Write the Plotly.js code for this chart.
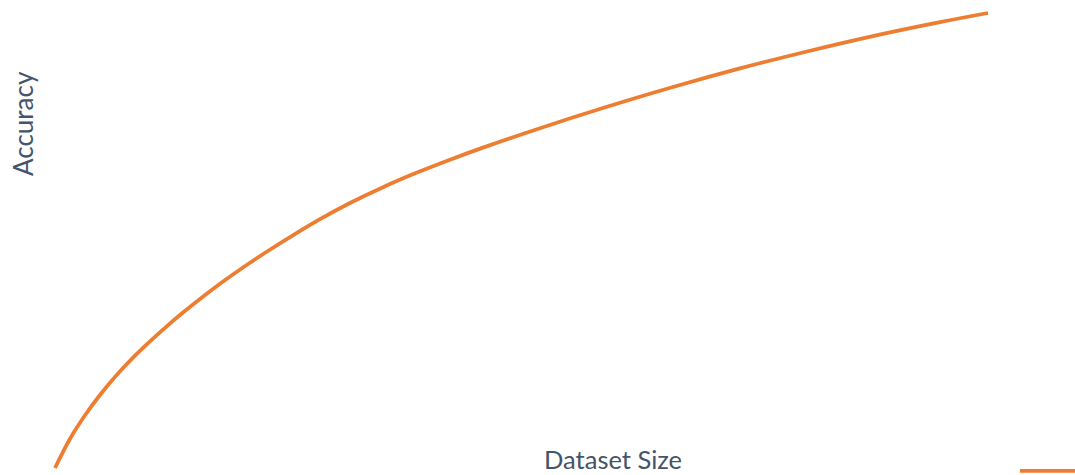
<!DOCTYPE html>
<html>
<head>
<meta charset="utf-8">
<script src="https://cdn.plot.ly/plotly-3.0.1.min.js"></script>
<style>html,body{margin:0;padding:0;background:#fff;}#chart{width:1075px;height:475px;}</style>
</head>
<body>
<div id="chart"></div>
<script>
const seriesName = "";
const datasetSize = [0, 1.61, 3.03, 4.82, 6.61, 8.39, 10.18, 11.97, 13.75, 15.54, 17.33, 19.11, 20.90, 22.69, 25.19, 28.08, 31.62, 35.16, 38.80, 42.34, 45.87, 51.66, 59.16, 66.24, 73.42, 80.60, 87.67, 94.86, 100];
const accuracy = [0, 6.43, 11.05, 16.04, 20.44, 24.31, 27.82, 31.12, 34.22, 37.16, 39.96, 42.58, 45.11, 47.53, 50.76, 54.32, 58.24, 61.72, 64.93, 67.76, 70.41, 74.47, 79.39, 83.74, 87.82, 91.55, 94.93, 97.99, 100];
const xTitle = "Dataset Size";
const yTitle = "Accuracy";

const textColor = "#44546A";
const lineColor = "#ED7D31";

const trace = {
  x: datasetSize,
  y: accuracy,
  type: "scatter",
  mode: "lines",
  name: seriesName,
  line: {color: lineColor, width: 3.75, shape: "spline", smoothing: 1}
};

const axisCommon = {
  showgrid: false, zeroline: false, showline: false,
  showticklabels: false, ticks: "", fixedrange: true
};

const layout = {
  width: 1075, height: 475,
  margin: {l: 50, r: 50, t: 8, b: 0, pad: 0, autoexpand: false},
  paper_bgcolor: "#fff", plot_bgcolor: "#fff",
  font: {family: "Lato, 'DejaVu Sans', sans-serif", color: textColor, size: 22},
  xaxis: Object.assign({range: [-0.536, 103.97]}, axisCommon),
  yaxis: Object.assign({range: [-1.54, 101.1]}, axisCommon),
  showlegend: true,
  legend: {
    x: 0.9897, y: 0.0086, xanchor: "left", yanchor: "middle",
    bgcolor: "rgba(0,0,0,0)", borderwidth: 0,
    font: {family: "Lato, sans-serif", size: 22, color: textColor},
    itemwidth: 60
  },
  annotations: [
    {text: xTitle, xref: "paper", yref: "paper", x: 0.5774, y: 0, xanchor: "center", yanchor: "bottom",
     showarrow: false, borderpad: 0, font: {family: "Lato, sans-serif", size: 25.5, color: textColor}},
    {text: yTitle, xref: "paper", yref: "paper", x: -0.0277, y: 0.7537, xanchor: "center", yanchor: "middle",
     textangle: -90, showarrow: false, font: {family: "Lato, sans-serif", size: 26, color: textColor}}
  ]
};

Plotly.newPlot("chart", [trace], layout, {displayModeBar: false, staticPlot: true});
</script>
</body>
</html>
